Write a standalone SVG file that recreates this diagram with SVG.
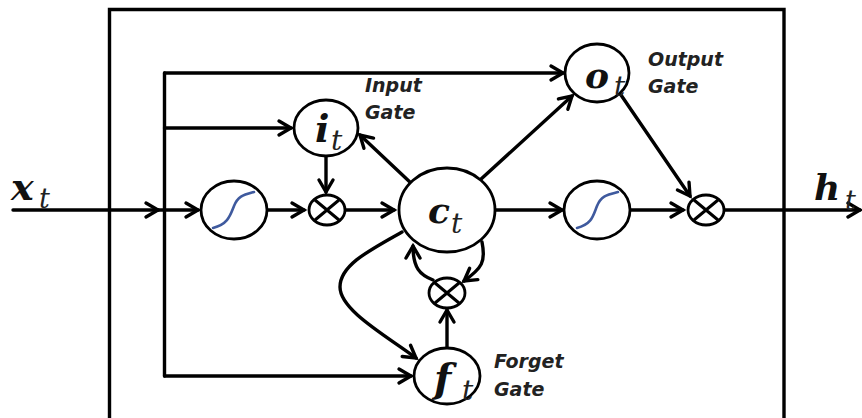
<svg xmlns="http://www.w3.org/2000/svg" width="862" height="418" viewBox="0 0 862 418">
<style>
.l{fill:none;stroke:#000;stroke-width:3.4;stroke-linecap:round}
.a{marker-end:url(#arr)}
.n{fill:#fff;stroke:#000;stroke-width:2.8}
.s{fill:none;stroke:#3f5a9e;stroke-width:2.6;stroke-linecap:round}
.x{fill:none;stroke:#000;stroke-width:3}
.m{font-family:"DejaVu Serif",serif;font-weight:bold;font-style:italic;fill:#111}
.t{font-family:"DejaVu Serif",serif;font-style:italic;fill:#222}
.g{font-family:"DejaVu Sans",sans-serif;font-style:italic;font-weight:bold;font-size:19px;fill:#222}
</style>
<defs>
<marker id="arr" markerUnits="userSpaceOnUse" markerWidth="24" markerHeight="24" viewBox="-18 -12 24 24" refX="0" refY="0" orient="auto" overflow="visible">
<path d="M-12 -7 L0 0 L-12 7" fill="none" stroke="#000" stroke-width="3.400" stroke-linecap="round" stroke-linejoin="miter"/>
</marker>
</defs>
<rect width="862" height="418" fill="#fff"/>
<path id="frame" d="M109.500 420 V9.500 H784 V420" fill="none" stroke="#000" stroke-width="3.400"/>
<g id="connectors">
<path class="l" d="M164.500 73 V376"/>
<path class="l a" d="M13 210 H158"/>
<path class="l a" d="M158 210 H198"/>
<path class="l a" d="M164.500 73 H563"/>
<path class="l a" d="M164.500 128 H291"/>
<path class="l a" d="M164.500 376 H411"/>
<path class="l a" d="M267 210 H304"/>
<path class="l a" d="M326 156 V192"/>
<path class="l a" d="M345 210 H394"/>
<path class="l a" d="M412 184 L360 135"/>
<path class="l a" d="M480 180 L572 96"/>
<path class="l a" d="M496 210 H562"/>
<path class="l a" d="M631 210 H683"/>
<path class="l a" d="M621 95 L690 196"/>
<path class="l a" d="M724 210 H860"/>
<path class="l a" d="M447 348 V310"/>
<path class="l a" d="M402 232 C370 250 340 265 340 287 C340 310 385 335 416 358"/>
<path class="l a" d="M433 280 C420 275 413 268 413 246"/>
<path class="l a" d="M482 242 C486 262 482 268 464 281"/>
</g>
<g id="x-input"><text class="m" x="11" y="200" font-size="38">x</text><text class="t" x="39" y="208" font-size="27">t</text></g>
<g id="sigmoid-1"><ellipse class="n" cx="234" cy="210" rx="33" ry="29"/><path class="s" d="M213 228 C228 224 230 216 234 206 C238 196 243 195 254 192"/></g>
<g id="mult-1"><ellipse class="n" cx="327" cy="210" rx="18" ry="15"/><path class="x" d="M315 200 L339 220 M339 200 L315 220"/></g>
<g id="input-gate"><ellipse class="n" cx="326" cy="128" rx="32" ry="28"/><text class="m" x="315" y="142" font-size="38">i</text><text class="t" x="331" y="150" font-size="28">t</text>
<text class="g" x="365" y="92">Input</text><text class="g" x="365" y="119">Gate</text></g>
<g id="cell"><ellipse class="n" cx="447" cy="210" rx="48" ry="42"/><text class="m" x="428" y="223" font-size="36">c</text><text class="t" x="451" y="233" font-size="28">t</text></g>
<g id="output-gate"><ellipse class="n" cx="597" cy="73" rx="32" ry="29"/><text class="m" x="585" y="88" font-size="36">o</text><text class="t" x="614" y="96" font-size="28">t</text>
<text class="g" x="648" y="66">Output</text><text class="g" x="648" y="93">Gate</text></g>
<g id="sigmoid-2"><ellipse class="n" cx="597" cy="210" rx="33" ry="29"/><path class="s" d="M577 228 C592 224 593 216 597 206 C601 196 606 195 618 192"/></g>
<g id="mult-2"><ellipse class="n" cx="706" cy="210" rx="18" ry="15"/><path class="x" d="M694 200 L718 220 M718 200 L694 220"/></g>
<g id="mult-3"><ellipse class="n" cx="447" cy="293" rx="18" ry="15"/><path class="x" d="M435 283 L459 303 M459 283 L435 303"/></g>
<g id="forget-gate"><ellipse class="n" cx="447" cy="376" rx="33" ry="28"/><text class="m" x="434" y="392" font-size="40">f</text><text class="t" x="462" y="400" font-size="28">t</text>
<text class="g" x="494" y="368">Forget</text><text class="g" x="494" y="396">Gate</text></g>
<g id="h-output"><text class="m" x="814" y="200" font-size="36">h</text><text class="t" x="845" y="210" font-size="27">t</text></g>
</svg>
